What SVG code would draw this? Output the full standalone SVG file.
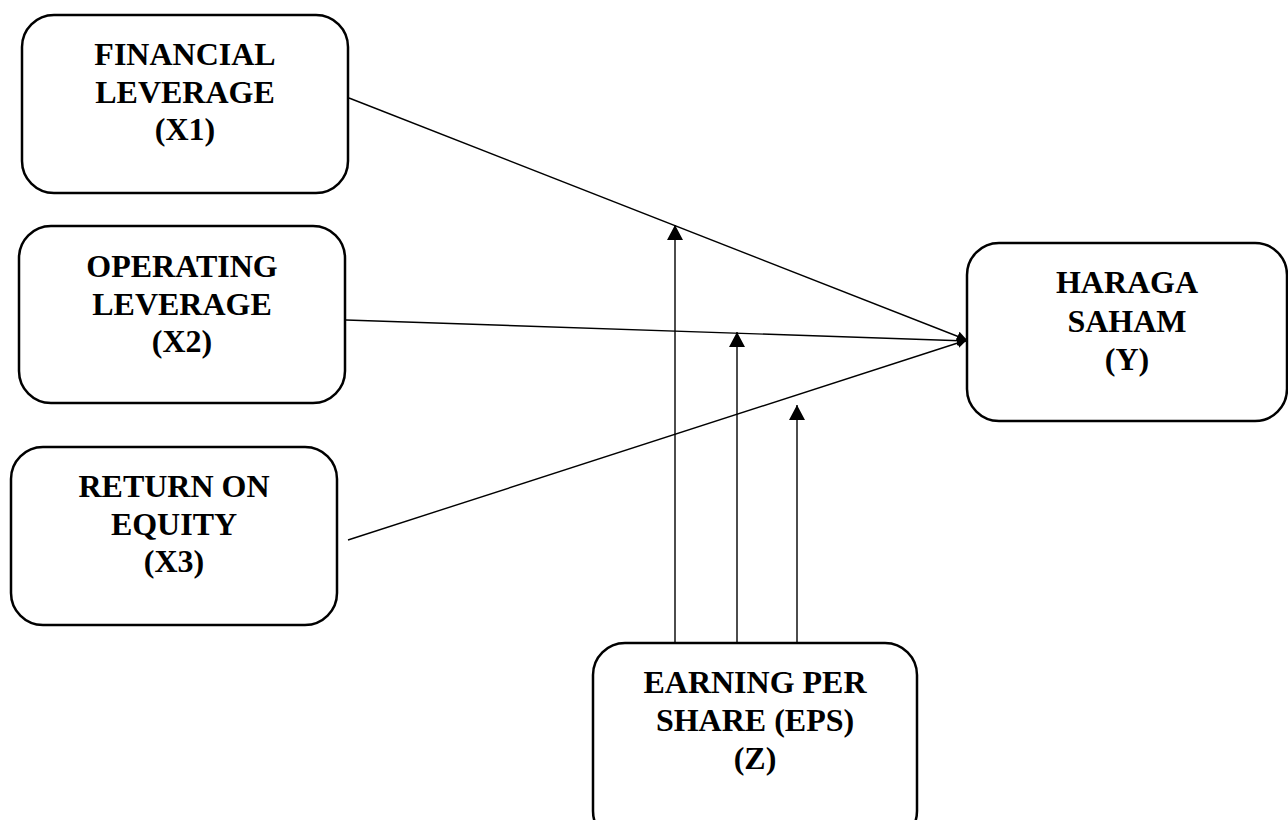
<svg xmlns="http://www.w3.org/2000/svg" width="1288" height="820" viewBox="0 0 1288 820">
<style>
.box{fill:#fff;stroke:#000;stroke-width:2.5}
.lbl{font-family:"Liberation Serif","Times New Roman",serif;font-weight:bold;font-size:32px;fill:#000;text-anchor:middle}
.ln{stroke:#000;stroke-width:1.4;fill:none}
</style>
<defs>
<marker id="ah" viewBox="0 0 10 10" refX="10" refY="5" markerWidth="10" markerHeight="10" markerUnits="userSpaceOnUse" orient="auto">
<path d="M0,0 L10,5 L0,10 Z" fill="#000"/>
</marker>
<marker id="au" viewBox="0 0 15 16" refX="15" refY="8" markerWidth="15" markerHeight="16" markerUnits="userSpaceOnUse" orient="auto">
<path d="M0,0 L15,8 L0,16 Z" fill="#000"/>
</marker>
</defs>
<rect width="1288" height="820" fill="#fff"/>
<g id="connectors">
<line class="ln" x1="349" y1="98" x2="967" y2="340" marker-end="url(#ah)"/>
<line class="ln" x1="346" y1="320" x2="967" y2="341" marker-end="url(#ah)"/>
<line class="ln" x1="348" y1="540" x2="967" y2="340" marker-end="url(#ah)"/>
<line class="ln" x1="675" y1="643" x2="675" y2="225" marker-end="url(#au)"/>
<line class="ln" x1="737" y1="643" x2="737" y2="332" marker-end="url(#au)"/>
<line class="ln" x1="797" y1="643" x2="797" y2="405" marker-end="url(#au)"/>
</g>
<g id="x1">
<rect class="box" x="22" y="15" width="326" height="178" rx="32"/>
<text class="lbl" x="185" y="65">FINANCIAL</text>
<text class="lbl" x="185" y="103">LEVERAGE</text>
<text class="lbl" x="185" y="140">(X1)</text>
</g>
<g id="x2">
<rect class="box" x="19" y="226" width="326" height="177" rx="32"/>
<text class="lbl" x="182" y="277">OPERATING</text>
<text class="lbl" x="182" y="315">LEVERAGE</text>
<text class="lbl" x="182" y="352">(X2)</text>
</g>
<g id="x3">
<rect class="box" x="11" y="447" width="326" height="178" rx="32"/>
<text class="lbl" x="174" y="497">RETURN ON</text>
<text class="lbl" x="174" y="535">EQUITY</text>
<text class="lbl" x="174" y="572">(X3)</text>
</g>
<g id="y">
<rect class="box" x="967" y="243" width="320" height="178" rx="32"/>
<text class="lbl" x="1127" y="293">HARAGA</text>
<text class="lbl" x="1127" y="332">SAHAM</text>
<text class="lbl" x="1127" y="370">(Y)</text>
</g>
<g id="z">
<rect class="box" x="593" y="643" width="324" height="200" rx="32"/>
<text class="lbl" x="755" y="693">EARNING PER</text>
<text class="lbl" x="755" y="731">SHARE (EPS)</text>
<text class="lbl" x="755" y="769">(Z)</text>
</g>
</svg>
